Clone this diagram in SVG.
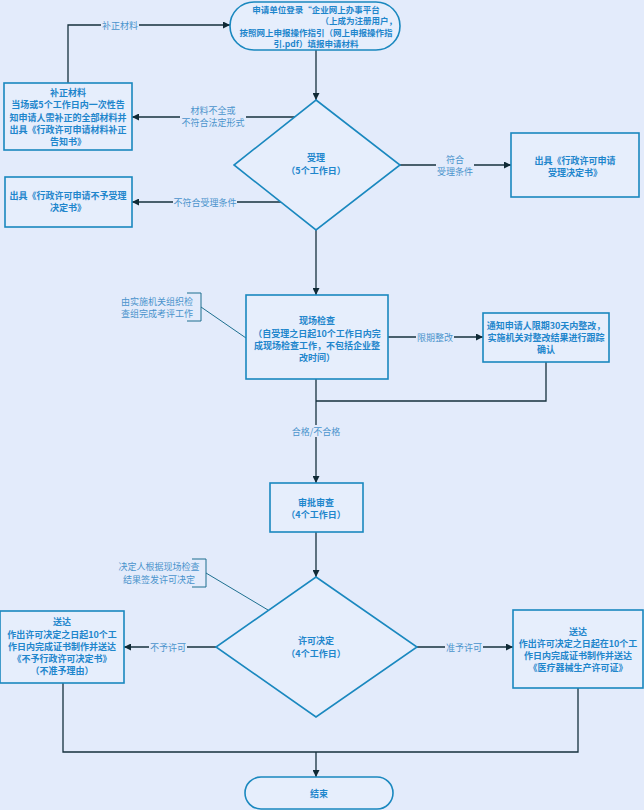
<svg xmlns="http://www.w3.org/2000/svg" width="644" height="810" viewBox="0 0 644 810">
<defs>
<marker id="ah" viewBox="0 0 10 10" refX="10" refY="5" markerWidth="7" markerHeight="7" markerUnits="userSpaceOnUse" orient="auto">
<path d="M0,0 L10,5 L0,10 z" fill="#102a36"/>
</marker>
<style>
.bg{fill:#e3ebfb}
.n{fill:#e6eefc;stroke:#1a88bf;stroke-width:1.6}
.t{font-family:"Noto Sans CJK SC","Noto Sans",sans-serif;font-size:9px;fill:#1f86cc;text-anchor:middle;dominant-baseline:central}
.b{font-weight:bold}
.s{font-size:8.5px}
.l{font-family:"Noto Sans CJK SC","Noto Sans",sans-serif;font-size:9px;fill:#4a93cc;text-anchor:middle;dominant-baseline:central}
.c{fill:none;stroke:#16313d;stroke-width:1.3}
.a{fill:none;stroke:#1d6f8f;stroke-width:1}
.lb{fill:#e3ebfb}
</style>
</defs>
<rect class="bg" x="0" y="0" width="644" height="810"/>

<g id="connectors">
<path class="c" d="M316,50 V100" marker-end="url(#ah)"/>
<path class="c" d="M68,83 V25 H230" marker-end="url(#ah)"/>
<path class="c" d="M295,117 H132" marker-end="url(#ah)"/>
<path class="c" d="M281,202 H132" marker-end="url(#ah)"/>
<path class="c" d="M400,165 H511" marker-end="url(#ah)"/>
<path class="c" d="M316,230 V295" marker-end="url(#ah)"/>
<path class="c" d="M388,337 H483" marker-end="url(#ah)"/>
<path class="c" d="M546,362 V401 H316"/>
<path class="c" d="M316,379 V483" marker-end="url(#ah)"/>
<path class="c" d="M316,532 V577" marker-end="url(#ah)"/>
<path class="c" d="M216,647 H124" marker-end="url(#ah)"/>
<path class="c" d="M417,647 H513" marker-end="url(#ah)"/>
<path class="c" d="M63,683 V752 H578 V688"/>
<path class="c" d="M316,752 V777" marker-end="url(#ah)"/>
<rect class="lb" x="101" y="19" width="38" height="12"/>
<text class="l" x="120" y="25">补正材料</text>
<rect class="lb" x="180" y="104" width="66" height="24"/>
<text class="l" x="213" y="110">材料不全或</text>
<text class="l" x="213" y="122">不符合法定形式</text>
<rect class="lb" x="173" y="196" width="64" height="12"/>
<text class="l" x="205" y="202">不符合受理条件</text>
<rect class="lb" x="436" y="153" width="38" height="24"/>
<text class="l" x="455" y="159">符合</text>
<text class="l" x="455" y="171">受理条件</text>
<rect class="lb" x="416" y="331" width="38" height="12"/>
<text class="l" x="435" y="337">限期整改</text>
<rect class="lb" x="290" y="425" width="52" height="12"/>
<text class="l" x="316" y="431">合格/不合格</text>
<rect class="lb" x="149" y="641" width="38" height="12"/>
<text class="l" x="168" y="647">不予许可</text>
<rect class="lb" x="445" y="641" width="38" height="12"/>
<text class="l" x="464" y="647">准予许可</text>
</g>

<g id="start">
<rect class="n" x="230" y="2" width="170" height="48" rx="24"/>
<text class="t b s" x="316" y="9">申请单位登录“企业网上办事平台</text>
<text class="t b s" x="397" y="20" style="text-anchor:end">（上成为注册用户，</text>
<text class="t b s" x="316" y="32">按照网上申报操作指引（网上申报操作指</text>
<text class="t b s" x="316" y="43">引.pdf）填报申请材料</text>
</g>

<g id="buzheng">
<rect class="n" x="4" y="83" width="128" height="67"/>
<text class="t b" x="68" y="92">补正材料</text>
<text class="t b" x="68" y="104">当场或5个工作日内一次性告</text>
<text class="t b" x="68" y="117">知申请人需补正的全部材料并</text>
<text class="t b" x="68" y="129">出具《行政许可申请材料补正</text>
<text class="t b" x="68" y="141">告知书》</text>
</g>

<g id="shouli">
<polygon class="n" points="316,100 400,165 316,230 234,165"/>
<text class="t b" x="316" y="157">受理</text>
<text class="t b" x="316" y="170">（5个工作日）</text>
</g>

<g id="buyushouli">
<rect class="n" x="5" y="177" width="127" height="50"/>
<text class="t b" x="68" y="195">出具《行政许可申请不予受理</text>
<text class="t b" x="68" y="207">决定书》</text>
</g>

<g id="shoulijueding">
<rect class="n" x="511" y="133" width="128" height="64"/>
<text class="t b" x="575" y="160">出具《行政许可申请</text>
<text class="t b" x="575" y="172">受理决定书》</text>
</g>

<g id="note1">
<text class="l" x="157" y="301">由实施机关组织检</text>
<text class="l" x="157" y="313">查组完成考评工作</text>
<path class="a" d="M187,293 H201 V321 H187 M201,307 L246,338"/>
</g>

<g id="xianchang">
<rect class="n" x="246" y="295" width="142" height="84"/>
<text class="t b" x="317" y="320">现场检查</text>
<text class="t b" x="317" y="333">（自受理之日起10个工作日内完</text>
<text class="t b" x="317" y="345">成现场检查工作，不包括企业整</text>
<text class="t b" x="317" y="357">改时间）</text>
</g>

<g id="zhenggai">
<rect class="n" x="483" y="313" width="126" height="49"/>
<text class="t b" x="546" y="325">通知申请人限期30天内整改，</text>
<text class="t b" x="546" y="337">实施机关对整改结果进行跟踪</text>
<text class="t b" x="546" y="349">确认</text>
</g>

<g id="shenpi">
<rect class="n" x="270" y="483" width="93" height="49"/>
<text class="t b" x="316" y="502">审批审查</text>
<text class="t b" x="316" y="514">（4个工作日）</text>
</g>

<g id="note2">
<text class="l" x="159" y="566">决定人根据现场检查</text>
<text class="l" x="159" y="579">结果签发许可决定</text>
<path class="a" d="M192,559 H206 V587 H192 M206,573 L268,610"/>
</g>

<g id="xuke">
<polygon class="n" points="316,577 417,647 316,717 216,647"/>
<text class="t b" x="316" y="640">许可决定</text>
<text class="t b" x="316" y="653">（4个工作日）</text>
</g>

<g id="buyu">
<rect class="n" x="0" y="611" width="124" height="72"/>
<text class="t b" x="62" y="621">送达</text>
<text class="t b" x="62" y="634">作出许可决定之日起10个工</text>
<text class="t b" x="62" y="646">作日内完成证书制作并送达</text>
<text class="t b" x="62" y="658">《不予行政许可决定书》</text>
<text class="t b" x="62" y="670">（不准予理由）</text>
</g>

<g id="zhunyu">
<rect class="n" x="513" y="610" width="130" height="78"/>
<text class="t b" x="578" y="631">送达</text>
<text class="t b" x="578" y="643">作出许可决定之日起在10个工</text>
<text class="t b" x="578" y="655">作日内完成证书制作并送达</text>
<text class="t b" x="578" y="667">《医疗器械生产许可证》</text>
</g>

<g id="end">
<rect class="n" x="245" y="777" width="148" height="32" rx="16"/>
<text class="t b" x="319" y="793">结束</text>
</g>
</svg>
